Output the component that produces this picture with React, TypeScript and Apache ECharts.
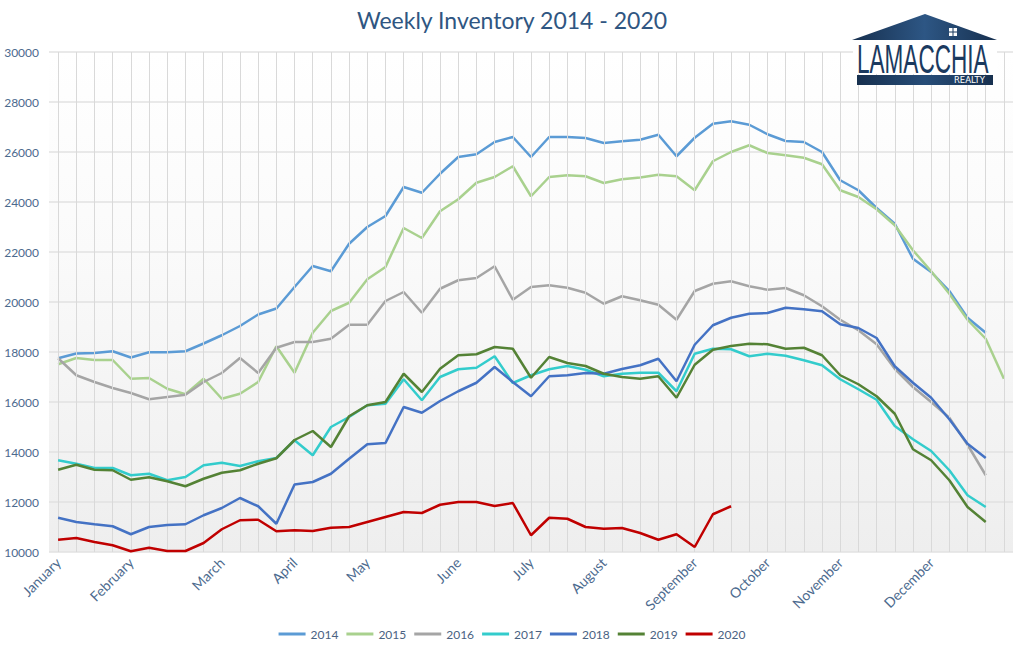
import React, { useEffect, useRef } from "react";
import * as echarts from "echarts";

const weeks: string[] = Array.from({ length: 53 }, (_, i) => `W${i + 1}`);
const monthIndex: number[] = [0, 4, 9, 13, 17, 22, 26, 30, 35, 39, 43, 48];
const monthNames: string[] = ["January", "February", "March", "April", "May", "June", "July", "August", "September", "October", "November", "December"];
const yTicks = { min: 10000, max: 30000, step: 2000 };

const s2014: number[] = [17750, 17940, 17960, 18030, 17780, 17990, 17990, 18030, 18340, 18670, 19040, 19500, 19740, 20600, 21440, 21230, 22330, 23000, 23440, 24600, 24370, 25130, 25800, 25910, 26400, 26600, 25800, 26600, 26600, 26560, 26360, 26430, 26490, 26690, 25830, 26570, 27130, 27230, 27090, 26710, 26440, 26400, 26000, 24870, 24470, 23760, 23130, 21730, 21200, 20440, 19370, 18770];
const s2015: number[] = [17510, 17760, 17680, 17680, 16930, 16960, 16530, 16310, 16930, 16130, 16330, 16800, 18230, 17170, 18770, 19640, 19970, 20910, 21400, 22960, 22560, 23630, 24110, 24770, 25000, 25430, 24230, 25000, 25070, 25030, 24760, 24910, 24980, 25090, 25030, 24470, 25630, 26000, 26270, 25960, 25870, 25770, 25510, 24470, 24200, 23710, 23070, 22070, 21230, 20330, 19290, 18530, 16930];
const s2016: number[] = [17750, 17070, 16800, 16560, 16360, 16110, 16200, 16290, 16800, 17160, 17760, 17160, 18170, 18400, 18400, 18530, 19090, 19090, 20040, 20400, 19570, 20530, 20870, 20960, 21430, 20090, 20600, 20670, 20570, 20370, 19930, 20230, 20070, 19890, 19290, 20440, 20730, 20830, 20630, 20490, 20560, 20270, 19830, 19290, 18870, 18310, 17330, 16600, 16000, 15370, 14290, 13070];
const s2017: number[] = [13670, 13530, 13360, 13360, 13070, 13130, 12870, 13000, 13470, 13570, 13440, 13630, 13760, 14470, 13870, 15000, 15400, 15870, 15930, 16910, 16070, 17000, 17310, 17370, 17830, 16760, 17070, 17310, 17440, 17290, 17030, 17130, 17170, 17170, 16430, 17930, 18130, 18110, 17830, 17930, 17850, 17670, 17470, 16910, 16510, 16090, 15040, 14510, 14040, 13270, 12270, 11800];
const s2018: number[] = [11370, 11200, 11110, 11030, 10710, 11000, 11080, 11110, 11470, 11760, 12160, 11830, 11130, 12700, 12800, 13130, 13730, 14310, 14360, 15800, 15570, 16040, 16430, 16770, 17400, 16800, 16230, 17030, 17070, 17160, 17130, 17320, 17470, 17730, 16830, 18290, 19070, 19370, 19530, 19560, 19770, 19710, 19630, 19110, 18960, 18560, 17430, 16770, 16170, 15310, 14330, 13760];
const s2019: number[] = [13290, 13490, 13290, 13270, 12890, 12990, 12830, 12630, 12930, 13170, 13270, 13530, 13750, 14480, 14840, 14200, 15430, 15870, 16000, 17130, 16400, 17330, 17870, 17910, 18200, 18130, 16970, 17800, 17560, 17440, 17130, 17000, 16930, 17030, 16170, 17490, 18090, 18240, 18330, 18310, 18130, 18170, 17870, 17070, 16710, 16230, 15530, 14110, 13670, 12870, 11800, 11200];
const s2020: number[] = [10490, 10560, 10400, 10270, 10030, 10170, 10040, 10040, 10360, 10910, 11270, 11290, 10830, 10870, 10840, 10970, 11000, 11200, 11400, 11600, 11560, 11890, 12000, 12000, 11840, 11960, 10670, 11370, 11330, 11000, 10930, 10960, 10760, 10490, 10710, 10200, 11510, 11830];

const seriesNames: string[] = ["2014", "2015", "2016", "2017", "2018", "2019", "2020"];
const seriesData: number[][] = [s2014, s2015, s2016, s2017, s2018, s2019, s2020];
const seriesColors: string[] = ["#5b9bd5", "#a9d18e", "#a5a5a5", "#33cccc", "#4472c4", "#548235", "#c00000"];

const labelColor = "#4c6a8e";
const navy = "#1b3a5f";

export default function App() {
  const ref = useRef<HTMLDivElement>(null);
  useEffect(() => {
    if (!ref.current) return;
    const chart = echarts.init(ref.current, null, { renderer: "svg" });
    const labelMap: Record<number, string> = {};
    monthIndex.forEach((idx, k) => (labelMap[idx] = monthNames[k]));

    const roofGrad = new echarts.graphic.LinearGradient(0, 0, 1, 0, [
      { offset: 0, color: "#17304f" },
      { offset: 0.5, color: "#2d5684" },
      { offset: 1, color: "#17304f" },
    ]);
    const barGrad = new echarts.graphic.LinearGradient(0, 0, 1, 0, [
      { offset: 0, color: "#17304f" },
      { offset: 0.5, color: "#274d78" },
      { offset: 1, color: "#17304f" },
    ]);

    const option: any = {
      animation: false,
      backgroundColor: "#ffffff",
      title: {
        text: "Weekly Inventory 2014 - 2020",
        left: "center",
        top: 3,
        textStyle: { fontFamily: "Lato", fontWeight: "normal", fontSize: 23, color: "#2f5682" },
      },
      legend: {
        data: seriesNames,
        left: "center",
        top: 623,
        icon: "rect",
        itemWidth: 27,
        itemHeight: 3,
        itemGap: 8,
        textStyle: { fontFamily: "Lato", fontSize: 12, color: "#4a6282" },
      },
      grid: {
        left: 49,
        right: 11,
        top: 52,
        bottom: 96,
        show: true,
        borderWidth: 0,
        backgroundColor: new echarts.graphic.LinearGradient(0, 0, 0, 1, [
          { offset: 0, color: "#ffffff" },
          { offset: 0.4, color: "#fafafa" },
          { offset: 1, color: "#eeeeee" },
        ]),
      },
      xAxis: {
        type: "category",
        data: weeks,
        boundaryGap: true,
        axisLine: { show: false },
        axisTick: { show: false },
        splitLine: { show: false },
        axisLabel: {
          interval: 0,
          rotate: 45,
          margin: 8,
          fontFamily: "Lato",
          fontSize: 14,
          color: labelColor,
          formatter: (_v: string, idx: number) => labelMap[idx] || "",
        },
      },
      yAxis: {
        type: "value",
        min: yTicks.min,
        max: yTicks.max,
        interval: yTicks.step,
        axisLine: { show: false },
        axisTick: { show: false },
        axisLabel: {
          fontFamily: "Lato",
          fontSize: 12,
          color: labelColor,
          margin: 10,
          formatter: (v: number) => String(v),
        },
        splitLine: { lineStyle: { color: "#e2e2e2", width: 1.5 } },
      },
      series: [
        {
          name: "grid-v",
          type: "line",
          data: [],
          z: 1,
          silent: true,
          markLine: {
            silent: true,
            symbol: ["none", "none"],
            label: { show: false },
            lineStyle: { color: "#d9d9d9", width: 1, type: "solid" },
            data: weeks.map((_w, i) => ({ xAxis: i })),
          },
        },
        ...seriesNames.map((name, k) => ({
          name,
          type: "line",
          data: seriesData[k],
          symbol: "none",
          showSymbol: false,
          color: seriesColors[k],
          lineStyle: { width: 2.5, color: seriesColors[k] },
          z: 2 + k,
        })),
      ],
      graphic: [
        {
          type: "polygon",
          shape: { points: [[852, 40], [925, 14], [997, 40]] },
          style: { fill: roofGrad },
          z: 100,
        },
        { type: "rect", shape: { x: 949, y: 28, width: 8, height: 8 }, style: { fill: "#ffffff" }, z: 101 },
        { type: "line", shape: { x1: 953, y1: 28, x2: 953, y2: 36 }, style: { stroke: navy, lineWidth: 1 }, z: 102 },
        { type: "line", shape: { x1: 949, y1: 32, x2: 957, y2: 32 }, style: { stroke: navy, lineWidth: 1 }, z: 102 },
        { type: "rect", shape: { x: 853, y: 41, width: 144, height: 33 }, style: { fill: "#ffffff" }, z: 100 },
        {
          type: "text",
          x: 857,
          y: 59,
          scaleX: 0.55,
          style: {
            text: "LAMACCHIA",
            fontFamily: "Liberation Sans",
            fontSize: 41,
            fill: navy,
            align: "left",
            verticalAlign: "middle",
          },
          z: 101,
        },
        { type: "rect", shape: { x: 857, y: 75, width: 136, height: 10 }, style: { fill: barGrad }, z: 100 },
        {
          type: "text",
          x: 985,
          y: 80,
          style: {
            text: "REALTY",
            fontFamily: "DejaVu Sans",
            fontSize: 8.5,
            fill: "#ffffff",
            align: "right",
            verticalAlign: "middle",
          },
          z: 101,
        },
      ],
    };
    chart.setOption(option);
    return () => chart.dispose();
  }, []);
  return <div ref={ref} style={{ position: "fixed", left: 0, top: 0, width: 1024, height: 648 }} />;
}
